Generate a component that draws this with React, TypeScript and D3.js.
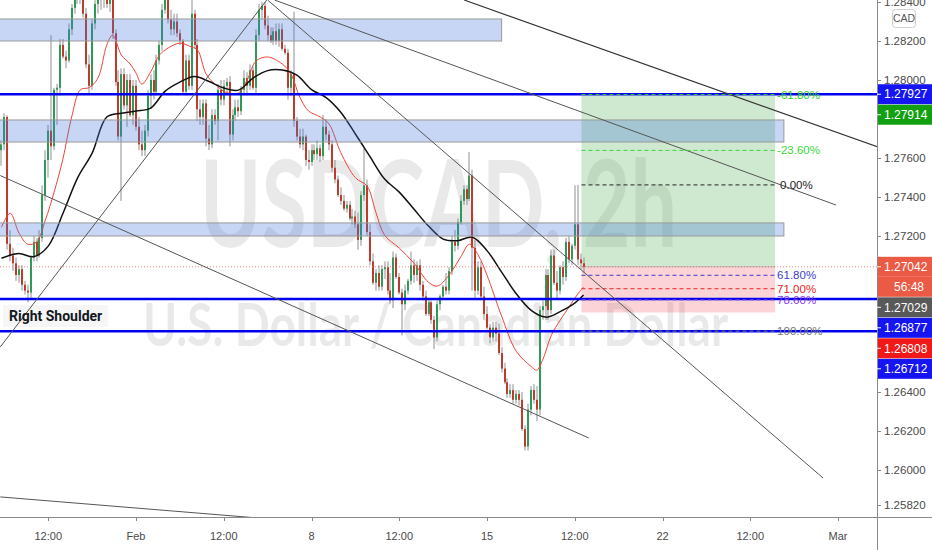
import React, { useLayoutEffect, useRef, useState } from 'react';
import * as d3 from 'd3';

// 2h bars, weekends removed, bar 0 = Mon Feb 1 00:00
const W = 932;
const H = 550;
const plotW = 877;
const plotH = 517;

const timeTicks = [-30, 0, 30, 60, 90, 120, 150, 180, 210, 240];
const timeLabels = ['12:00', 'Feb', '12:00', '8', '12:00', '15', '12:00', '22', '12:00', 'Mar'];
const priceTicks = [1.284, 1.282, 1.28, 1.276, 1.274, 1.272, 1.264, 1.262, 1.26, 1.2582];

const firstBar = -46;

// [open, high, low, close]
const weekJan25 = [
  [1.2764, 1.2769, 1.2756, 1.2767], [1.2767, 1.2783, 1.2764, 1.2781], [1.2781, 1.2782, 1.2713, 1.2716],
  [1.2716, 1.2723, 1.2707, 1.2710], [1.2710, 1.2714, 1.2702, 1.2706], [1.2706, 1.2709, 1.2697, 1.2700],
  [1.2700, 1.2705, 1.2696, 1.2703], [1.2703, 1.2705, 1.2692, 1.2695], [1.2695, 1.2697, 1.2690, 1.2692],
  [1.2692, 1.2695, 1.2686, 1.2691], [1.2691, 1.2710, 1.2688, 1.2709], [1.2709, 1.2720, 1.2707, 1.2717],
  [1.2717, 1.2719, 1.2707, 1.2710], [1.2710, 1.2723, 1.2709, 1.2719], [1.2719, 1.2746, 1.2717, 1.2741],
  [1.2741, 1.2764, 1.2738, 1.2759], [1.2759, 1.2777, 1.2750, 1.2774], [1.2774, 1.2823, 1.2759, 1.2766],
  [1.2766, 1.2796, 1.2764, 1.2795], [1.2795, 1.2798, 1.2777, 1.2796], [1.2796, 1.2821, 1.2792, 1.2818],
  [1.2818, 1.2821, 1.2811, 1.2812], [1.2812, 1.2815, 1.2806, 1.2810], [1.2810, 1.2829, 1.2809, 1.2826],
  [1.2826, 1.2839, 1.2823, 1.2837], [1.2837, 1.2852, 1.2834, 1.2847], [1.2847, 1.2855, 1.2839, 1.2842],
  [1.2842, 1.2858, 1.2839, 1.2850], [1.2850, 1.2855, 1.2832, 1.2834], [1.2834, 1.2837, 1.2806, 1.2808],
  [1.2808, 1.2813, 1.2793, 1.2797], [1.2797, 1.2831, 1.2795, 1.2829], [1.2829, 1.2841, 1.2826, 1.2839],
  [1.2839, 1.2852, 1.2834, 1.2847], [1.2847, 1.2858, 1.2836, 1.2842], [1.2842, 1.2855, 1.2837, 1.2850],
  [1.2850, 1.2855, 1.2837, 1.2839], [1.2839, 1.2849, 1.2835, 1.2844], [1.2844, 1.2849, 1.2821, 1.2824],
  [1.2824, 1.2826, 1.2797, 1.2799], [1.2799, 1.2805, 1.2769, 1.2771], [1.2771, 1.2806, 1.2738, 1.2803],
  [1.2803, 1.2806, 1.2785, 1.2787], [1.2787, 1.2803, 1.2776, 1.2800], [1.2800, 1.2803, 1.2781, 1.2782],
  [1.2782, 1.2800, 1.2777, 1.2797],
];

const weekFeb1 = [
  [1.2797, 1.2800, 1.2774, 1.2776], [1.2776, 1.2781, 1.2764, 1.2767], [1.2767, 1.2774, 1.2761, 1.2764],
  [1.2764, 1.2777, 1.2761, 1.2774], [1.2774, 1.2795, 1.2771, 1.2792], [1.2792, 1.2803, 1.2785, 1.2800],
  [1.2800, 1.2805, 1.2790, 1.2794], [1.2794, 1.2813, 1.2792, 1.2810], [1.2810, 1.2820, 1.2808, 1.2818],
  [1.2818, 1.2839, 1.2815, 1.2836], [1.2836, 1.2852, 1.2834, 1.2847], [1.2847, 1.2855, 1.2829, 1.2831],
  [1.2831, 1.2836, 1.2823, 1.2826], [1.2826, 1.2834, 1.2823, 1.2830], [1.2830, 1.2834, 1.2822, 1.2824],
  [1.2824, 1.2826, 1.2818, 1.2820], [1.2820, 1.2821, 1.2793, 1.2794], [1.2794, 1.2813, 1.2792, 1.2810],
  [1.2810, 1.2813, 1.2795, 1.2797], [1.2797, 1.2841, 1.2795, 1.2834], [1.2834, 1.2836, 1.2816, 1.2818],
  [1.2818, 1.2821, 1.2779, 1.2785], [1.2785, 1.2790, 1.2777, 1.2781], [1.2781, 1.2790, 1.2777, 1.2788],
  [1.2788, 1.2790, 1.2766, 1.2770], [1.2770, 1.2777, 1.2764, 1.2767], [1.2767, 1.2785, 1.2765, 1.2782],
  [1.2782, 1.2785, 1.2777, 1.2779], [1.2779, 1.2798, 1.2769, 1.2795], [1.2795, 1.2800, 1.2787, 1.2790],
  [1.2790, 1.2800, 1.2787, 1.2797], [1.2797, 1.2801, 1.2792, 1.2799], [1.2799, 1.2802, 1.2766, 1.2772],
  [1.2772, 1.2785, 1.2769, 1.2782], [1.2782, 1.2790, 1.2779, 1.2786], [1.2786, 1.2790, 1.2781, 1.2784],
  [1.2784, 1.2797, 1.2782, 1.2795], [1.2795, 1.2805, 1.2792, 1.2801], [1.2801, 1.2804, 1.2792, 1.2797],
  [1.2797, 1.2808, 1.2795, 1.2805], [1.2805, 1.2807, 1.2795, 1.2796], [1.2796, 1.2826, 1.2793, 1.2823],
  [1.2823, 1.2839, 1.2820, 1.2836], [1.2836, 1.2840, 1.2831, 1.2838], [1.2838, 1.2840, 1.2826, 1.2828],
  [1.2828, 1.2833, 1.2820, 1.2823], [1.2823, 1.2827, 1.2819, 1.2820], [1.2820, 1.2827, 1.2818, 1.2825],
  [1.2825, 1.2829, 1.2818, 1.2820], [1.2820, 1.2829, 1.2817, 1.2826], [1.2826, 1.2829, 1.2815, 1.2816],
  [1.2816, 1.2818, 1.2813, 1.2814], [1.2814, 1.2816, 1.2790, 1.2796], [1.2796, 1.2805, 1.2792, 1.2803],
  [1.2803, 1.2835, 1.2776, 1.2779], [1.2779, 1.2781, 1.2769, 1.2771], [1.2771, 1.2775, 1.2765, 1.2767],
  [1.2767, 1.2775, 1.2764, 1.2771], [1.2771, 1.2772, 1.2756, 1.2759], [1.2759, 1.2764, 1.2754, 1.2758],
];

const weekFeb8 = [
  [1.2758, 1.2767, 1.2756, 1.2764], [1.2764, 1.2767, 1.2759, 1.2762], [1.2762, 1.2769, 1.2759, 1.2765],
  [1.2765, 1.2767, 1.2758, 1.2761], [1.2761, 1.2782, 1.2759, 1.2776], [1.2776, 1.2780, 1.2769, 1.2772],
  [1.2772, 1.2774, 1.2764, 1.2767], [1.2767, 1.2769, 1.2753, 1.2755], [1.2755, 1.2759, 1.2747, 1.2749],
  [1.2749, 1.2751, 1.2740, 1.2741], [1.2741, 1.2745, 1.2736, 1.2738], [1.2738, 1.2741, 1.2733, 1.2734],
  [1.2734, 1.2738, 1.2732, 1.2736], [1.2736, 1.2738, 1.2728, 1.2729], [1.2729, 1.2734, 1.2726, 1.2730],
  [1.2730, 1.2733, 1.2724, 1.2726], [1.2726, 1.2732, 1.2713, 1.2718], [1.2718, 1.2743, 1.2715, 1.2741],
  [1.2741, 1.2765, 1.2738, 1.2746], [1.2746, 1.2749, 1.2720, 1.2722], [1.2722, 1.2726, 1.2705, 1.2707],
  [1.2707, 1.2711, 1.2695, 1.2696], [1.2696, 1.2703, 1.2692, 1.2701], [1.2701, 1.2705, 1.2692, 1.2694],
  [1.2694, 1.2705, 1.2692, 1.2703], [1.2703, 1.2707, 1.2698, 1.2704], [1.2704, 1.2707, 1.2690, 1.2692],
  [1.2692, 1.2701, 1.2685, 1.2687], [1.2687, 1.2712, 1.2683, 1.2709], [1.2709, 1.2711, 1.2698, 1.2699],
  [1.2699, 1.2701, 1.2690, 1.2691], [1.2691, 1.2693, 1.2669, 1.2685], [1.2685, 1.2695, 1.2682, 1.2692],
  [1.2692, 1.2698, 1.2690, 1.2697], [1.2697, 1.2712, 1.2695, 1.2705], [1.2705, 1.2708, 1.2696, 1.2700],
  [1.2700, 1.2707, 1.2697, 1.2705], [1.2705, 1.2708, 1.2692, 1.2695], [1.2695, 1.2697, 1.2687, 1.2689],
  [1.2689, 1.2692, 1.2679, 1.2680], [1.2680, 1.2688, 1.2679, 1.2686], [1.2686, 1.2687, 1.2675, 1.2677],
  [1.2677, 1.2679, 1.2662, 1.2668], [1.2668, 1.2687, 1.2666, 1.2685], [1.2685, 1.2690, 1.2682, 1.2689],
  [1.2689, 1.2695, 1.2687, 1.2694], [1.2694, 1.2701, 1.2690, 1.2692], [1.2692, 1.2704, 1.2690, 1.2702],
  [1.2702, 1.2720, 1.2700, 1.2717], [1.2717, 1.2723, 1.2712, 1.2715], [1.2715, 1.2729, 1.2713, 1.2727],
  [1.2727, 1.2741, 1.2726, 1.2738], [1.2738, 1.2746, 1.2736, 1.2744], [1.2744, 1.2746, 1.2736, 1.2739],
  [1.2739, 1.2763, 1.2738, 1.2751], [1.2751, 1.2754, 1.2692, 1.2714], [1.2714, 1.2718, 1.2687, 1.2692],
  [1.2692, 1.2707, 1.2690, 1.2704], [1.2704, 1.2707, 1.2687, 1.2689], [1.2689, 1.2694, 1.2677, 1.2680],
];

const weekFeb15 = [
  [1.2680, 1.2684, 1.2672, 1.2673], [1.2673, 1.2675, 1.2665, 1.2668], [1.2668, 1.2676, 1.2666, 1.2673],
  [1.2673, 1.2676, 1.2666, 1.2670], [1.2670, 1.2675, 1.2659, 1.2660], [1.2660, 1.2663, 1.2650, 1.2652],
  [1.2652, 1.2655, 1.2644, 1.2645], [1.2645, 1.2647, 1.2637, 1.2639], [1.2639, 1.2644, 1.2637, 1.2641],
  [1.2641, 1.2644, 1.2634, 1.2636], [1.2636, 1.2641, 1.2634, 1.2639], [1.2639, 1.2641, 1.2633, 1.2636],
  [1.2636, 1.2640, 1.2620, 1.2621], [1.2621, 1.2623, 1.2610, 1.2612], [1.2612, 1.2634, 1.2610, 1.2631],
  [1.2631, 1.2643, 1.2628, 1.2641], [1.2641, 1.2644, 1.2634, 1.2636], [1.2636, 1.2643, 1.2625, 1.2631],
  [1.2631, 1.2684, 1.2628, 1.2682], [1.2682, 1.2687, 1.2677, 1.2684], [1.2684, 1.2703, 1.2677, 1.2700],
  [1.2700, 1.2703, 1.2677, 1.2682], [1.2682, 1.2713, 1.2680, 1.2710], [1.2710, 1.2713, 1.2695, 1.2696],
  [1.2696, 1.2702, 1.2688, 1.2692], [1.2692, 1.2705, 1.2690, 1.2704], [1.2704, 1.2707, 1.2695, 1.2699],
  [1.2699, 1.2719, 1.2697, 1.2717], [1.2717, 1.2720, 1.2706, 1.2708], [1.2708, 1.2716, 1.2705, 1.2715],
  [1.2715, 1.2746, 1.2713, 1.2726], [1.2726, 1.27462, 1.2705, 1.2708], [1.2708, 1.2711, 1.2703, 1.2706],
  [1.2706, 1.2709, 1.2701, 1.27042],
];

// moving averages (bar, price)
const redMaBars = [-46, -43, -40, -37, -34, -31, -28, -25, -22, -19, -16, -13, -10, -8, -5, -2, 0, 2, 5, 8, 11, 15, 19, 21, 24, 27, 31, 35, 38, 41, 45, 50, 53, 56, 59, 63, 66, 70, 75, 79, 82, 85, 90, 95, 100, 103, 107, 111, 114, 117, 120, 125, 130, 135, 137, 139, 142, 145, 148, 151, 153];
const redMaValues = [1.27245, 1.27317, 1.27215, 1.27158, 1.27169, 1.27281, 1.27425, 1.27594, 1.2781, 1.2795, 1.27961, 1.2801, 1.28179, 1.2823, 1.28128, 1.28082, 1.28036, 1.27979, 1.28041, 1.28128, 1.28164, 1.28189, 1.28169, 1.28155, 1.2803, 1.27979, 1.27935, 1.27933, 1.28, 1.28097, 1.28118, 1.28082, 1.2803, 1.27912, 1.27841, 1.2781, 1.27774, 1.27628, 1.27499, 1.27456, 1.27322, 1.27204, 1.27138, 1.27061, 1.26963, 1.26943, 1.26999, 1.27092, 1.27158, 1.27102, 1.26999, 1.26789, 1.26609, 1.26532, 1.26512, 1.26563, 1.26691, 1.26768, 1.26835, 1.26902, 1.26938];
const blackMaBars = [-46, -40, -35, -30, -25, -20, -15, -10, -5, 0, 5, 10, 15, 20, 25, 30, 35, 40, 45, 50, 55, 60, 65, 70, 75, 80, 85, 90, 95, 100, 105, 110, 115, 120, 125, 130, 135, 140, 145, 150, 153];
const blackMaValues = [1.27086, 1.2711, 1.27094, 1.27148, 1.27315, 1.27497, 1.27625, 1.2781, 1.2783, 1.27841, 1.27856, 1.27943, 1.27989, 1.28018, 1.27992, 1.27959, 1.27948, 1.2801, 1.28048, 1.28051, 1.28025, 1.27951, 1.2791, 1.27835, 1.27723, 1.27607, 1.27492, 1.27425, 1.27338, 1.27251, 1.27184, 1.27176, 1.27194, 1.27125, 1.27015, 1.26904, 1.2682, 1.26784, 1.26812, 1.26856, 1.26897];

// supply / demand zones: [top, bottom, endBar]
const zones = [
  [1.28313, 1.282, 125],
  [1.27795, 1.27682, 221.5],
  [1.27267, 1.272, 221.5],
];
const horizontalLevels = [1.27927, 1.26877, 1.26712];
const lastPrice = 1.27042;

// trend lines: [[bar, price], [bar, price]]
const trendLines = [
  [[-46.4, 1.26631], [44.7, 1.2841]],
  [[45.0, 1.2841], [234.9, 1.25959]],
  [[47.4, 1.2841], [239.3, 1.27359]],
  [[112.2, 1.2841], [253.5, 1.27657]],
  [[-46.4, 1.2751], [154.8, 1.26164]],
  [[-46.4, 1.25862], [41.6, 1.25754]],
];

// long position + fibonacci
const positionStart = 152.3;
const positionEnd = 218.5;
const entryPrice = 1.27042;
const targetPrice = 1.2792;
const stopPrice = 1.26808;
const fibHigh = 1.27462;
const fibLow = 1.26712;
const fibLevels = [-0.618, -0.236, 0, 0.618, 0.71, 0.786, 1];
const fibLabels = ['-61.80%', '-23.60%', '0.00%', '61.80%', '71.00%', '78.60%', '100.00%'];
const fibColors = ['#1fd41f', '#3ad63a', '#222222', '#3b3bd0', '#e82222', '#8a3ae6', '#777777'];

const axisTags = [
  { price: 1.27927, text: '1.27927', bg: '#1515f2' },
  { price: 1.27914, text: '1.27914', bg: '#12a012' },
  { price: 1.27042, text: '1.27042', bg: '#ea5a45', countdown: '56:48' },
  { price: 1.27029, text: '1.27029', bg: '#595959' },
  { price: 1.26877, text: '1.26877', bg: '#1515f2' },
  { price: 1.26808, text: '1.26808', bg: '#f01818' },
  { price: 1.26712, text: '1.26712', bg: '#1515f2' },
];

const watermarkTitle = 'USDCAD, 2h';
const watermarkSub = 'U.S. Dollar / Canadian Dollar';

const candles = [...weekJan25, ...weekFeb1, ...weekFeb8, ...weekFeb15];

export default function App() {
  const titleRef = useRef<SVGTextElement>(null);
  const subRef = useRef<SVGTextElement>(null);
  const [scales, setScales] = useState([0.7, 0.7]);

  // squeeze the watermark to the width it has in the chart
  useLayoutEffect(() => {
    const a = titleRef.current ? titleRef.current.getComputedTextLength() : 0;
    const b = subRef.current ? subRef.current.getComputedTextLength() : 0;
    if (a && b) setScales([477 / a, 585 / b]);
  }, []);

  const x = d3.scaleLinear().domain([0, 240]).range([136, 838]);
  const y = d3.scaleLinear().domain([1.26, 1.284]).range([470, 2]);

  const redLine = d3.line<number>()
    .x((_, i) => x(redMaBars[i]))
    .y(d => y(d))
    .curve(d3.curveCatmullRom.alpha(0.5));
  const blackLine = d3.line<number>()
    .x((_, i) => x(blackMaBars[i]))
    .y(d => y(d))
    .curve(d3.curveCatmullRom.alpha(0.5));

  // stack axis tags so they don't overlap
  let prevBottom = -Infinity;
  const placedTags = axisTags.map(t => {
    const cy = Math.max(y(t.price), prevBottom + 10.5);
    const rows = t.countdown ? 2 : 1;
    prevBottom = cy - 10 + 20 * rows;
    return { ...t, cy };
  });

  const font = '"Liberation Sans", Arial, sans-serif';
  const wmFont = 'Lato, "Open Sans", sans-serif';

  return (
    <svg width={W} height={H} style={{ position: 'fixed', left: 0, top: 0, background: '#fff' }} fontFamily={font}>
      <defs>
        <clipPath id="plot">
          <rect x={0} y={0} width={plotW} height={plotH} />
        </clipPath>
      </defs>
      <rect width={W} height={H} fill="#fff" />

      <g clipPath="url(#plot)">
        {/* watermark */}
        <g transform={`translate(200,247) scale(${scales[0]},1)`}>
          <text ref={titleRef} x={0} y={0} fontFamily={wmFont} fontWeight="bold" fontSize={120}
            fill="rgba(0,0,0,0.085)">{watermarkTitle}</text>
        </g>
        <g transform={`translate(143,346) scale(${scales[1]},1)`}>
          <text ref={subRef} x={0} y={0} fontFamily={wmFont} fontWeight="bold" fontSize={60}
            fill="rgba(0,0,0,0.085)">{watermarkSub}</text>
        </g>

        {/* position tool */}
        <rect x={x(positionStart)} y={y(targetPrice)} width={x(positionEnd) - x(positionStart)}
          height={y(entryPrice) - y(targetPrice)} fill="rgba(76,175,80,0.27)" />
        <rect x={x(positionStart)} y={y(entryPrice)} width={x(positionEnd) - x(positionStart)}
          height={y(stopPrice) - y(entryPrice)} fill="rgba(242,54,69,0.22)" />
        <line x1={x(positionStart)} x2={x(positionEnd)} y1={y(entryPrice)} y2={y(entryPrice)} stroke="#9e9e9e" strokeOpacity={0.6} />

        {/* candles */}
        {candles.map((c, i) => {
          const [o, h, l, cl] = c;
          const px = Math.round(x(firstBar + i));
          const up = cl >= o;
          const top = y(Math.max(o, cl));
          const bh = Math.max(1, Math.abs(y(o) - y(cl)));
          return (
            <g key={i}>
              <line x1={px} x2={px} y1={y(h)} y2={y(l)} stroke="#8f8f8f" strokeWidth={1} />
              <rect x={px - 1} y={top} width={2} height={bh} fill={up ? '#2e9a58' : '#bf3a2c'} />
            </g>
          );
        })}

        {/* moving averages */}
        <path d={redLine(redMaValues) || ''} fill="none" stroke="#f04438" strokeWidth={1} />
        <path d={blackLine(blackMaValues) || ''} fill="none" stroke="#111" strokeWidth={1.5} />

        {/* zones */}
        {zones.map((z, i) => (
          <rect key={i} x={-1} y={y(z[0])} width={x(z[2]) + 1} height={y(z[1]) - y(z[0])}
            fill="rgba(66,120,220,0.3)" stroke="#9a9a9a" strokeWidth={1} />
        ))}

        {/* last price line */}
        <line x1={0} x2={plotW} y1={y(lastPrice)} y2={y(lastPrice)} stroke="#ef5350" strokeOpacity={0.7}
          strokeDasharray="1,2" />

        {/* horizontal levels */}
        {horizontalLevels.map((p, i) => (
          <line key={i} x1={0} x2={plotW} y1={y(p)} y2={y(p)} stroke="#0000ee" strokeWidth={2.5} />
        ))}

        {/* trend lines */}
        {trendLines.map((t, i) => (
          <line key={i} x1={x(t[0][0])} y1={y(t[0][1])} x2={x(t[1][0])} y2={y(t[1][1])}
            stroke={i === 3 ? '#333' : '#555'} strokeWidth={i === 3 ? 1.2 : 1} />
        ))}

        {/* fibonacci */}
        {fibLevels.map((lv, i) => {
          const p = fibHigh - lv * (fibHigh - fibLow);
          return (
            <g key={i}>
              <line x1={x(positionStart)} x2={x(positionEnd)} y1={y(p)} y2={y(p)} stroke={fibColors[i]}
                strokeDasharray="4,3" strokeWidth={1} />
              <text x={x(positionEnd) + (lv === 0 ? 5 : 2)} y={y(p)} dy="0.35em" fontSize={11.5}
                fill={fibColors[i]}>{fibLabels[i]}</text>
            </g>
          );
        })}

        {/* annotation */}
        <rect x={3} y={305} width={105} height={22} fill="rgba(0,0,0,0.035)" />
        <text x={9} y={321} fontFamily="Roboto, sans-serif" fontWeight="bold" fontSize={14} fill="#131722">Right Shoulder</text>
      </g>

      {/* time axis */}
      <line x1={0} x2={W} y1={plotH + 0.5} y2={plotH + 0.5} stroke="#8a8a8a" />
      {timeTicks.map((t, i) => (
        <g key={i}>
          <line x1={Math.round(x(t)) + 0.5} x2={Math.round(x(t)) + 0.5} y1={plotH} y2={plotH + 4} stroke="#8a8a8a" />
          <text x={x(t)} y={540} textAnchor="middle" fontSize={11} fill="#4a4a4a">{timeLabels[i]}</text>
        </g>
      ))}

      {/* price axis */}
      <line x1={plotW + 0.5} x2={plotW + 0.5} y1={0} y2={H} stroke="#8a8a8a" />
      {priceTicks.map((p, i) => (
        <g key={i}>
          <line x1={plotW} x2={plotW + 4} y1={Math.round(y(p)) + 0.5} y2={Math.round(y(p)) + 0.5} stroke="#8a8a8a" />
          <text x={884} y={y(p)} dy="0.35em" fontSize={11.5} fill="#4a4a4a">{p.toFixed(5)}</text>
        </g>
      ))}
      <rect x={892.5} y={9.5} width={23} height={18} rx={3} fill="#fff" stroke="#d0d0d0" />
      <text x={904} y={22} textAnchor="middle" fontSize={10.5} fill="#555">CAD</text>

      {placedTags.map((t, i) => (
        <g key={i}>
          <rect x={plotW + 1} y={t.cy - 10} width={W - plotW - 1} height={20} fill={t.bg} />
          <line x1={plotW} x2={plotW + 4} y1={t.cy} y2={t.cy} stroke="#fff" />
          <text x={884} y={t.cy} dy="0.35em" fontSize={12} fill="#fff">{t.text}</text>
          {t.countdown && (
            <g>
              <rect x={plotW + 1} y={t.cy + 10} width={W - plotW - 1} height={20} fill={t.bg} />
              <text x={924} y={t.cy + 20} dy="0.35em" fontSize={12} fill="#fff" textAnchor="end">{t.countdown}</text>
            </g>
          )}
        </g>
      ))}
    </svg>
  );
}
